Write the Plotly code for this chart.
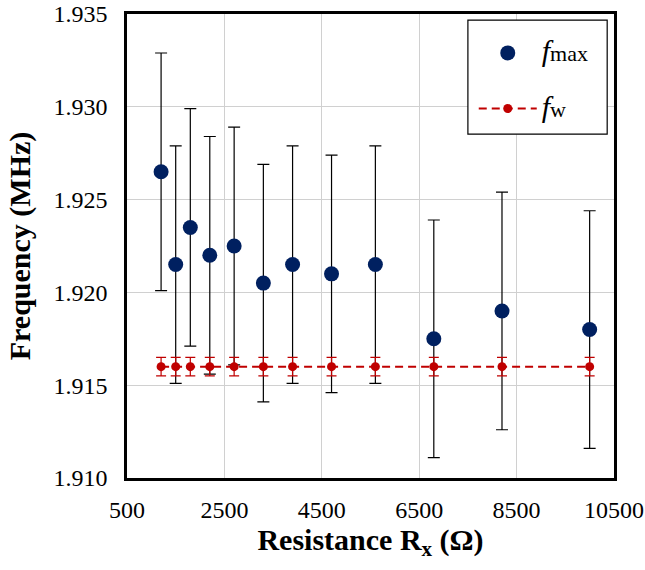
import plotly.graph_objects as go

resistance = [1200, 1500, 1800, 2200, 2700, 3300, 3900, 4700, 5600, 6800, 8200, 10000]
f_max = [1.9265, 1.9215, 1.9235, 1.9220, 1.9225, 1.9205, 1.9215, 1.9210, 1.9215, 1.9175, 1.9190, 1.9180]
f_max_err = [0.0064] * 12
f_w = [1.9160] * 12
f_w_err = [0.0005] * 12

x_ticks = [500, 2500, 4500, 6500, 8500, 10500]
y_ticks = [1.910, 1.915, 1.920, 1.925, 1.930, 1.935]

FONT = "Liberation Serif, Times New Roman, serif"

fig = go.Figure()
fig.add_trace(go.Scatter(
    x=resistance, y=f_max, mode="markers",
    name="<span style='font-size:30px'><i>f</i></span>max",
    legendgroup="a",
    marker=dict(color="#002060", size=15),
    error_y=dict(type="data", array=f_max_err, color="black", thickness=1.2, width=6),
))
fig.add_trace(go.Scatter(
    x=resistance, y=f_w, mode="lines+markers",
    name="<span style='font-size:30px'><i>f</i></span>w",
    legendgroup="b",
    line=dict(color="#c00000", width=2, dash="8px,5px"),
    marker=dict(color="#c00000", size=9),
    error_y=dict(type="data", array=f_w_err, color="#c00000", thickness=1.2, width=5),
))

# legend frame (white box with black border)
fig.add_shape(type="rect", xref="paper", yref="paper",
              x0=0.700, x1=0.986, y0=0.741, y1=0.987,
              line=dict(color="black", width=1.2), fillcolor="white", layer="above")

fig.update_layout(
    width=645, height=570,
    margin=dict(l=127, r=31, t=14, b=92),
    plot_bgcolor="white", paper_bgcolor="white",
    font=dict(family=FONT, size=24, color="black"),
    showlegend=True,
    legend=dict(
        x=0.712, y=0.961, xanchor="left", yanchor="top",
        bgcolor="rgba(0,0,0,0)", borderwidth=0,
        font=dict(family=FONT, size=22, color="black"),
        itemsizing="trace", itemwidth=58,
        traceorder="grouped", tracegroupgap=24,
    ),
    xaxis=dict(
        range=[500, 10500], tickvals=x_ticks, ticktext=[str(v) for v in x_ticks],
        showgrid=True, gridcolor="#d0d0d0", gridwidth=1,
        showline=True, linecolor="black", linewidth=2.5, mirror=True,
        ticks="", zeroline=False, ticklabelstandoff=8, automargin=False,
        tickfont=dict(family=FONT, size=24),
        title=dict(text="<b>Resistance R<sub>x</sub> (Ω)</b>", font=dict(family=FONT, size=30), standoff=2),
    ),
    yaxis=dict(
        range=[1.910, 1.935], tickvals=y_ticks, ticktext=[f"{v:.3f}" for v in y_ticks],
        showgrid=True, gridcolor="#d0d0d0", gridwidth=1,
        showline=True, linecolor="black", linewidth=2.5, mirror=True,
        ticks="", zeroline=False, ticklabelstandoff=12, automargin=False,
        tickfont=dict(family=FONT, size=24),
        title=dict(text="<b>Frequency (MHz)</b>", font=dict(family=FONT, size=30), standoff=14),
    ),
)

fig.write_html("out.html")
